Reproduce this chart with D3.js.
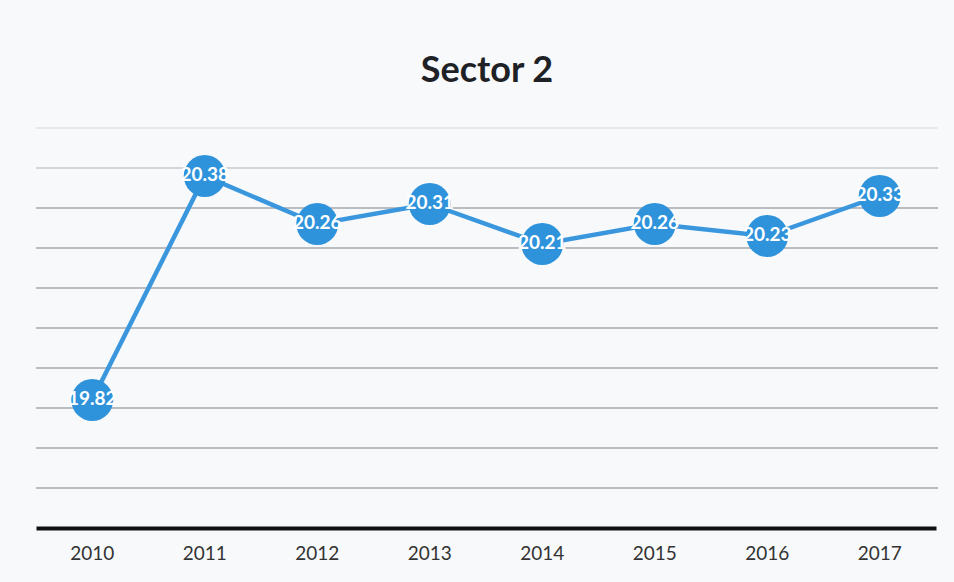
<!DOCTYPE html>
<html>
<head>
<meta charset="utf-8">
<script src="https://cdn.jsdelivr.net/npm/d3@7"></script>
<style>
body{margin:0;background:#f7f8fa;}
svg{display:block;}
.gridline{stroke:#a4a8ae;stroke-width:1.4;}
.tick text{font-family:Lato,'Open Sans',sans-serif;font-size:19px;fill:#333;}
</style>
</head>
<body>
<div id="chart"></div>
<script>
var years = ['2010','2011','2012','2013','2014','2015','2016','2017'];
var values = [19.82,20.38,20.26,20.31,20.21,20.26,20.23,20.33];
var gridValues = [19.6,19.7,19.8,19.9,20.0,20.1,20.2,20.3,20.4,20.5];

var W = 954, H = 582;
var svg = d3.select('#chart').append('svg')
	.attr('width',W).attr('height',H);

svg.append('rect').attr('width',W).attr('height',H).attr('fill','#f8f9fb');

var x = d3.scaleBand().domain(years).range([36,936]);
var y = d3.scaleLinear().domain([19.5,20.5]).range([528,128]);

svg.append('text')
	.attr('x',487).attr('y',82)
	.attr('text-anchor','middle')
	.attr('font-family','Lato,"Open Sans",sans-serif')
	.attr('font-weight','bold')
	.attr('font-size',36)
	.attr('fill','#1e2226')
	.text('Sector 2');

// horizontal gridlines, the top ones fade out like in the photo
svg.selectAll('.gridline')
	.data(gridValues).enter()
	.append('line')
	.attr('class','gridline')
	.attr('x1',36).attr('x2',938)
	.attr('y1',function(d){return y(d);})
	.attr('y2',function(d){return y(d);})
	.attr('stroke-opacity',function(d){return d>=20.45?0.25:(d>=20.35?0.6:1);});

var xAxis = svg.append('g')
	.attr('transform','translate(0,'+y(19.5)+')')
	.call(d3.axisBottom(x).tickSize(0).tickPadding(19));
xAxis.select('.domain').attr('stroke','#111').attr('stroke-width',4);

var line = d3.line()
	.x(function(d,i){return x(years[i])+x.bandwidth()/2;})
	.y(function(d){return y(d);});

svg.append('path')
	.datum(values)
	.attr('fill','none')
	.attr('stroke','#3a97dd')
	.attr('stroke-width',4.5)
	.attr('d',line);

svg.selectAll('.dot')
	.data(values).enter()
	.append('circle')
	.attr('class','dot')
	.attr('cx',function(d,i){return x(years[i])+x.bandwidth()/2;})
	.attr('cy',function(d){return y(d);})
	.attr('r',21)
	.attr('fill','#2f93dc');

svg.selectAll('.lbl')
	.data(values).enter()
	.append('text')
	.attr('class','lbl')
	.attr('x',function(d,i){return x(years[i])+x.bandwidth()/2;})
	.attr('y',function(d){return y(d)+5;})
	.attr('text-anchor','middle')
	.attr('font-family','Lato,"Open Sans",sans-serif')
	.attr('font-weight','bold')
	.attr('font-size',19)
	.attr('fill','#fff')
	.text(function(d){return d.toFixed(2);});
</script>
</body>
</html>
